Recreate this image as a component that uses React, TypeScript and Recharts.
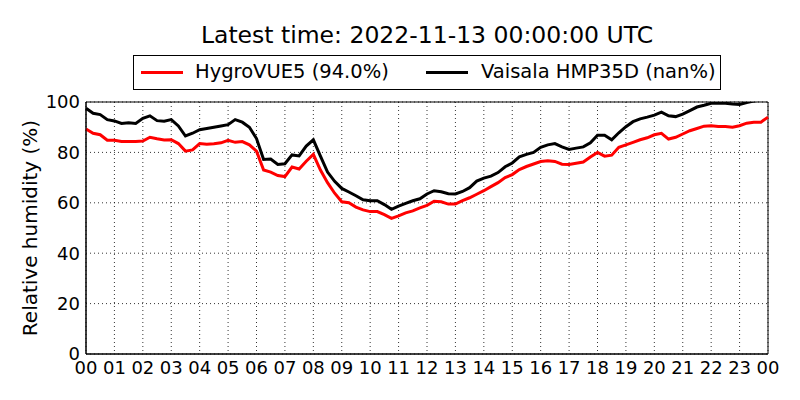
import React from 'react';
import {
  LineChart,
  Line,
  XAxis,
  YAxis,
  CartesianGrid,
  Legend,
  ReferenceArea,
} from 'recharts';

const FONT = '"DejaVu Sans", sans-serif';

// hour-of-day ticks (00 .. 24) and humidity ticks
const hourTicks = [0, 1, 2, 3, 4, 5, 6, 7, 8, 9, 10, 11, 12, 13, 14, 15, 16, 17, 18, 19, 20, 21, 22, 23, 24];
const humidityTicks = [0, 20, 40, 60, 80, 100];

// samples every 15 minutes
const sampleStepHours = 0.25;

const hygroVue5 = [
  89.3, 87.6, 87.0, 84.8, 84.8, 84.3, 84.3, 84.3, 84.5, 86.0, 85.4, 84.9,
  85.0, 83.5, 80.5, 81.0, 83.5, 83.2, 83.4, 83.8, 84.8, 84.0, 84.3, 83.0,
  80.5, 73.0, 72.2, 70.8, 70.4, 74.2, 73.4, 76.5, 79.2, 73.0, 68.0, 63.8,
  60.4, 60.0, 58.3, 57.2, 56.5, 56.5, 55.3, 53.8, 54.8, 56.0, 56.8, 58.0,
  59.0, 60.6, 60.4, 59.5, 59.5, 60.9, 62.0, 63.4, 64.8, 66.4, 68.0, 70.0,
  71.2, 73.2, 74.4, 75.4, 76.4, 76.7, 76.4, 75.3, 75.2, 75.7, 76.2, 78.2,
  80.0, 78.5, 78.9, 82.0, 83.0, 84.0, 85.0, 85.8, 87.0, 87.6, 85.3, 86.0,
  87.3, 88.6, 89.5, 90.4, 90.6, 90.3, 90.3, 90.0, 90.6, 91.6, 92.0, 92.0,
  94.0,
];

const vaisalaHmp35d = [
  97.5, 95.5, 95.0, 93.0, 92.5, 91.5, 91.8, 91.5, 93.5, 94.5, 92.6, 92.4,
  93.0, 90.5, 86.5, 87.6, 89.0, 89.5, 90.0, 90.5, 91.0, 93.0, 92.0, 90.0,
  85.5, 77.2, 77.4, 75.2, 75.5, 79.0, 78.6, 82.5, 85.0, 78.5, 72.2, 68.5,
  65.7, 64.3, 62.8, 61.2, 60.8, 60.8, 59.3, 57.4, 58.7, 59.8, 60.8, 61.6,
  63.5, 64.8, 64.4, 63.6, 63.5, 64.5, 66.0, 68.6, 69.8, 70.6, 72.0, 74.3,
  75.8, 78.2, 79.2, 80.0, 82.0, 83.0, 83.5, 82.2, 81.2, 81.7, 82.2, 83.8,
  86.8, 86.8, 85.0, 87.8, 90.2, 92.2, 93.3, 94.0, 94.8, 96.0, 94.5, 94.2,
  95.2, 96.6, 98.0, 98.7, 99.5, 99.6, 99.5, 99.2, 99.0, 99.8, 100.4, 100.8,
  101.2,
];

const data = hygroVue5.map((v, i) => ({
  hour: i * sampleStepHours,
  hygro: v,
  vaisala: vaisalaHmp35d[i],
}));

// 24 wraps around to the next day's 00
const hourLabel = (h: number) => String(h % 24).padStart(2, '0');

const renderLegend = () => (
  <div
    style={{
      position: 'relative',
      width: 588,
      height: 35,
      border: '1px solid #000',
      boxSizing: 'border-box',
      background: '#fff',
      fontFamily: FONT,
      fontSize: 19.5,
      color: '#000',
    }}
  >
    <span style={{ position: 'absolute', left: 7, top: 15, width: 42, height: 3, background: '#ff0000' }} />
    <span style={{ position: 'absolute', left: 61, top: 4, lineHeight: '24px', whiteSpace: 'nowrap' }}>
      HygroVUE5 (94.0%)
    </span>
    <span style={{ position: 'absolute', left: 292, top: 15, width: 42, height: 3, background: '#000' }} />
    <span style={{ position: 'absolute', left: 347, top: 4, lineHeight: '24px', whiteSpace: 'nowrap' }}>
      Vaisala HMP35D (nan%)
    </span>
  </div>
);

const App: React.FC = () => {
  return (
    <div style={{ position: 'absolute', left: 0, top: 0, width: 800, height: 400, background: '#fff' }}>
      <div
        style={{
          position: 'absolute',
          left: 0,
          top: 21,
          width: 854,
          textAlign: 'center',
          fontFamily: FONT,
          fontSize: 23.5,
          lineHeight: '28px',
          color: '#000',
        }}
      >
        Latest time: 2022-11-13 00:00:00 UTC
      </div>
      <LineChart
        width={800}
        height={400}
        data={data}
        margin={{ top: 102, right: 32, bottom: 0, left: 0 }}
        style={{ fontFamily: FONT }}
      >
        <CartesianGrid stroke="#000" strokeWidth={0.8} strokeDasharray="1 3" />
        <XAxis
          dataKey="hour"
          type="number"
          domain={[0, 24]}
          ticks={hourTicks}
          interval={0}
          tickFormatter={hourLabel}
          height={46}
          tickSize={0}
          tickMargin={7}
          axisLine={{ stroke: '#000' }}
          tick={{ fill: '#000', fontSize: 18 }}
        />
        <YAxis
          type="number"
          domain={[0, 100]}
          ticks={humidityTicks}
          allowDataOverflow
          width={86}
          tickSize={0}
          tickMargin={6}
          axisLine={{ stroke: '#000' }}
          tick={{ fill: '#000', fontSize: 18 }}
          label={{
            content: () => (
              <text
                x={30}
                y={228}
                transform="rotate(-90 30 228)"
                textAnchor="middle"
                dominantBaseline="central"
                fill="#000"
                fontSize={20}
                fontFamily={FONT}
              >
                Relative humidity (%)
              </text>
            ),
          }}
        />
        <Legend
          layout="vertical"
          align="center"
          verticalAlign="middle"
          content={renderLegend}
          wrapperStyle={{ top: 55, left: 133, width: 588 }}
        />
        <Line
          type="linear"
          dataKey="hygro"
          name="HygroVUE5 (94.0%)"
          stroke="#ff0000"
          strokeWidth={3}
          dot={false}
          isAnimationActive={false}
        />
        <Line
          type="linear"
          dataKey="vaisala"
          name="Vaisala HMP35D (nan%)"
          stroke="#000000"
          strokeWidth={3}
          dot={false}
          isAnimationActive={false}
        />
        <ReferenceArea x1={0} x2={24} y1={0} y2={100} fill="none" stroke="#000" strokeWidth={1} />
      </LineChart>
    </div>
  );
};

export default App;
